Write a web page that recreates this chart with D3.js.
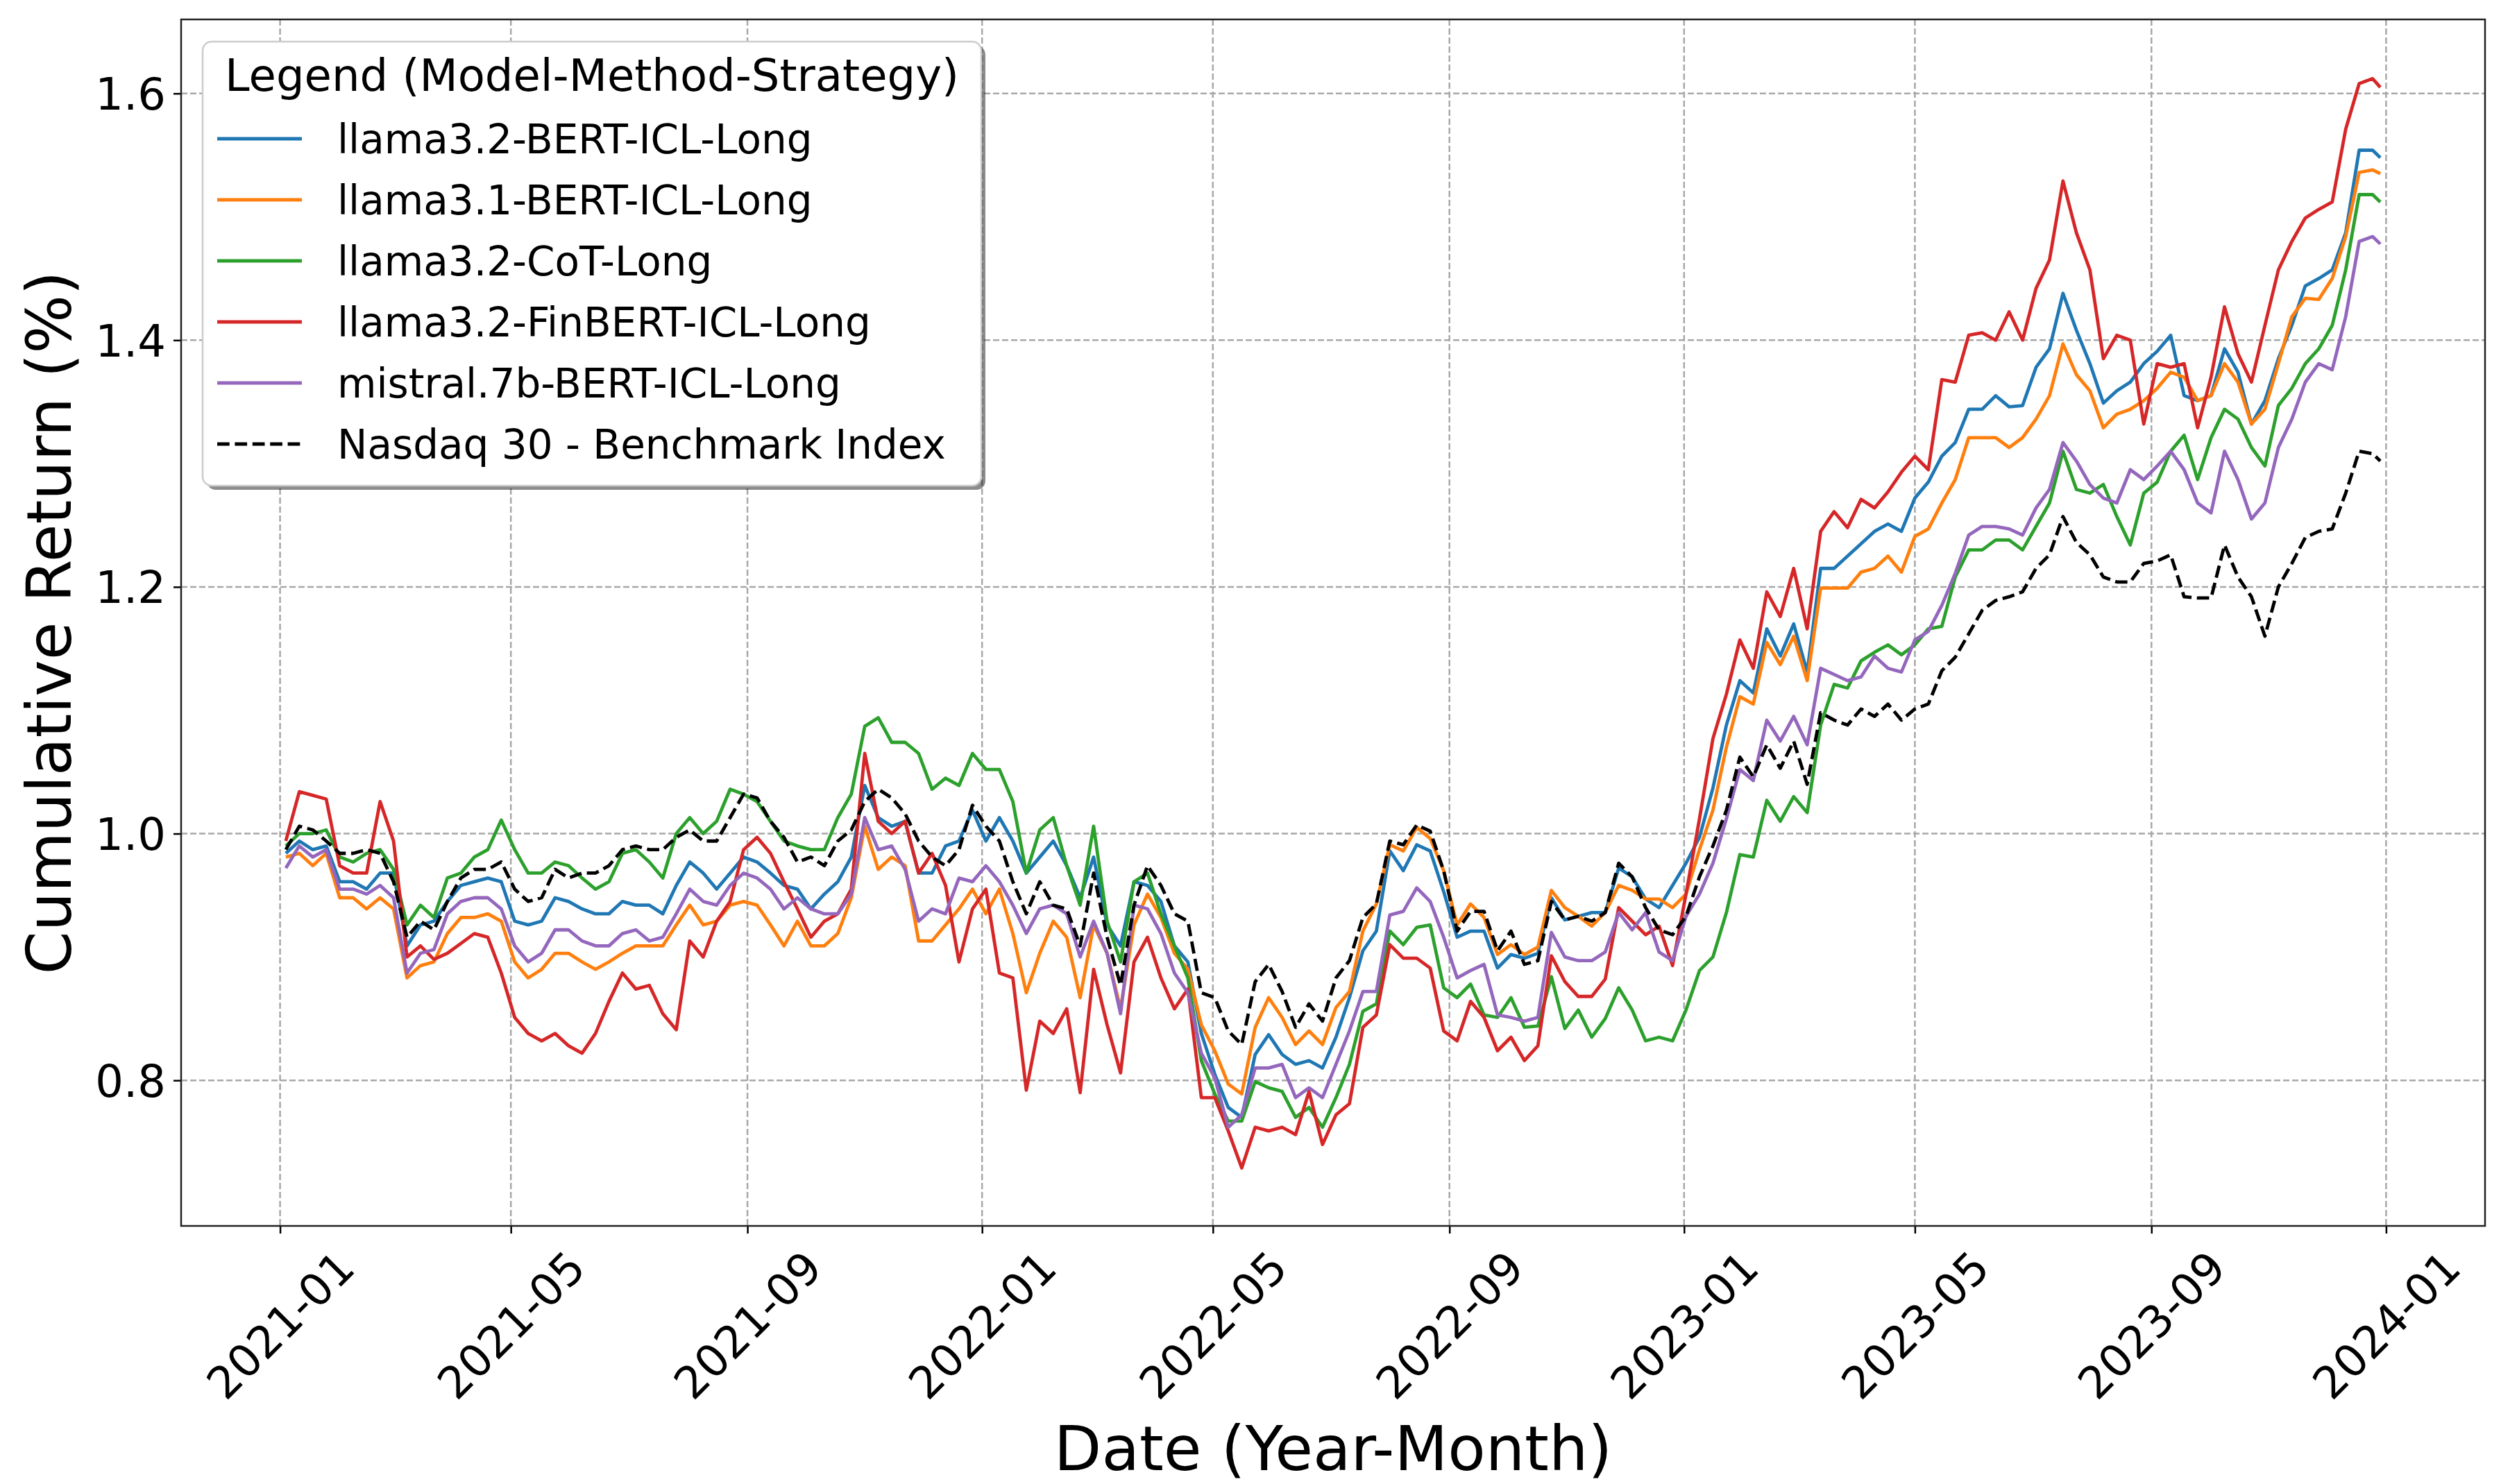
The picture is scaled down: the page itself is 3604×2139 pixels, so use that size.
<!DOCTYPE html>
<html>
<head>
<meta charset="utf-8">
<script src="https://cdn.jsdelivr.net/npm/d3@7"></script>
<style>
  body { margin: 0; background: #fff; }
  text { font-family: "DejaVu Sans", sans-serif; fill: #000; }
</style>
</head>
<body>
<div id="chart"></div>
<script>
// weekly samples
var dates = [
  "2021-01-04","2021-01-11","2021-01-18","2021-01-25","2021-02-01","2021-02-08","2021-02-15","2021-02-22","2021-03-01","2021-03-08",
  "2021-03-15","2021-03-22","2021-03-29","2021-04-05","2021-04-12","2021-04-19","2021-04-26","2021-05-03","2021-05-10","2021-05-17",
  "2021-05-24","2021-05-31","2021-06-07","2021-06-14","2021-06-21","2021-06-28","2021-07-05","2021-07-12","2021-07-19","2021-07-26",
  "2021-08-02","2021-08-09","2021-08-16","2021-08-23","2021-08-30","2021-09-06","2021-09-13","2021-09-20","2021-09-27","2021-10-04",
  "2021-10-11","2021-10-18","2021-10-25","2021-11-01","2021-11-08","2021-11-15","2021-11-22","2021-11-29","2021-12-06","2021-12-13",
  "2021-12-20","2021-12-27",
  "2022-01-03","2022-01-10","2022-01-17","2022-01-24","2022-01-31","2022-02-07","2022-02-14","2022-02-21","2022-02-28","2022-03-07",
  "2022-03-14","2022-03-21","2022-03-28","2022-04-04","2022-04-11","2022-04-18","2022-04-25","2022-05-02","2022-05-09","2022-05-16",
  "2022-05-23","2022-05-30","2022-06-06","2022-06-13","2022-06-20","2022-06-27","2022-07-04","2022-07-11","2022-07-18","2022-07-25",
  "2022-08-01","2022-08-08","2022-08-15","2022-08-22","2022-08-29","2022-09-05","2022-09-12","2022-09-19","2022-09-26","2022-10-03",
  "2022-10-10","2022-10-17","2022-10-24","2022-10-31","2022-11-07","2022-11-14","2022-11-21","2022-11-28","2022-12-05","2022-12-12",
  "2022-12-19","2022-12-26",
  "2023-01-02","2023-01-09","2023-01-16","2023-01-23","2023-01-30","2023-02-06","2023-02-13","2023-02-20","2023-02-27","2023-03-06",
  "2023-03-13","2023-03-20","2023-03-27","2023-04-03","2023-04-10","2023-04-17","2023-04-24","2023-05-01","2023-05-08","2023-05-15",
  "2023-05-22","2023-05-29","2023-06-05","2023-06-12","2023-06-19","2023-06-26","2023-07-03","2023-07-10","2023-07-17","2023-07-24",
  "2023-07-31","2023-08-07","2023-08-14","2023-08-21","2023-08-28","2023-09-04","2023-09-11","2023-09-18","2023-09-25","2023-10-02",
  "2023-10-09","2023-10-16","2023-10-23","2023-10-30","2023-11-06","2023-11-13","2023-11-20","2023-11-27","2023-12-04","2023-12-11",
  "2023-12-18","2023-12-25","2023-12-29"
];

var llama32Bert = [
  0.984, 0.994, 0.987, 0.990, 0.961, 0.961, 0.955, 0.968, 0.968, 0.909,
  0.926, 0.929, 0.945, 0.958, 0.961, 0.964, 0.961, 0.929, 0.926, 0.929,
  0.948, 0.945, 0.939, 0.935, 0.935, 0.945, 0.942, 0.942, 0.935, 0.958,
  0.977, 0.968, 0.955, 0.968, 0.981, 0.977, 0.968, 0.958, 0.955, 0.939,
  0.951, 0.961, 0.981, 1.039, 1.013, 1.006, 1.010, 0.968, 0.968, 0.990,
  0.994, 1.019, 0.994, 1.013, 0.994, 0.968, 0.981, 0.994, 0.974, 0.948,
  0.981, 0.926, 0.909, 0.961, 0.958, 0.945, 0.909, 0.896, 0.838,
  0.805, 0.778, 0.770, 0.821, 0.837, 0.821, 0.813, 0.816, 0.810, 0.835,
  0.867, 0.905, 0.921, 0.986, 0.970, 0.991, 0.986, 0.953, 0.916, 0.921,
  0.921, 0.891, 0.902, 0.899, 0.903, 0.948, 0.930,
  0.933, 0.936, 0.936, 0.972, 0.965, 0.947, 0.940, 0.958, 0.976, 0.997, 1.037, 1.088,
  1.124, 1.114, 1.166, 1.144, 1.170, 1.131, 1.215, 1.215, 1.225, 1.235, 1.245, 1.251, 1.245, 1.272,
  1.285, 1.306, 1.317, 1.344, 1.344, 1.355, 1.346, 1.347, 1.378, 1.393,
  1.438, 1.408, 1.381, 1.349, 1.359, 1.366, 1.381, 1.391, 1.404, 1.355,
  1.351, 1.355, 1.393, 1.374, 1.332, 1.351, 1.385, 1.412, 1.444, 1.450,
  1.457, 1.487, 1.554, 1.554, 1.548
];

var llama31Bert = [
  0.981, 0.984, 0.974, 0.984, 0.948, 0.948, 0.939, 0.948, 0.939, 0.883,
  0.893, 0.896, 0.919, 0.932, 0.932, 0.935, 0.929, 0.896, 0.883, 0.890,
  0.903, 0.903, 0.896, 0.890, 0.896, 0.903, 0.909, 0.909, 0.909, 0.926,
  0.942, 0.926, 0.929, 0.942, 0.945, 0.942, 0.926, 0.909, 0.929, 0.909,
  0.909, 0.919, 0.948, 1.006, 0.971, 0.981, 0.974, 0.913, 0.913, 0.926,
  0.939, 0.955, 0.935, 0.955, 0.919, 0.871, 0.903, 0.929, 0.916, 0.867,
  0.926, 0.903, 0.858, 0.926, 0.951, 0.932, 0.903, 0.890, 0.845,
  0.824, 0.797, 0.789, 0.843, 0.867, 0.851, 0.829, 0.840, 0.829, 0.859,
  0.872, 0.921, 0.943, 0.991, 0.986, 1.005, 0.996, 0.970, 0.926, 0.943,
  0.932, 0.902, 0.910, 0.902, 0.908, 0.954, 0.940,
  0.933, 0.925, 0.936, 0.958, 0.954, 0.947, 0.947, 0.940, 0.951, 0.987, 1.019, 1.070,
  1.111, 1.105, 1.155, 1.137, 1.160, 1.124, 1.199, 1.199, 1.199, 1.212, 1.215, 1.225, 1.212, 1.241,
  1.247, 1.268, 1.287, 1.321, 1.321, 1.321, 1.313, 1.321, 1.336, 1.355,
  1.397, 1.372, 1.359, 1.329, 1.340, 1.344, 1.351, 1.361, 1.374, 1.370,
  1.351, 1.355, 1.381, 1.366, 1.332, 1.344, 1.381, 1.419, 1.434, 1.433,
  1.450, 1.484, 1.536, 1.538, 1.535
];

var llama32Cot = [
  0.990, 1.000, 1.000, 1.003, 0.981, 0.977, 0.984, 0.987, 0.971, 0.926,
  0.942, 0.932, 0.964, 0.968, 0.981, 0.987, 1.011, 0.987, 0.968, 0.968,
  0.977, 0.974, 0.964, 0.955, 0.961, 0.984, 0.987, 0.977, 0.964, 1.000,
  1.013, 1.000, 1.010, 1.036, 1.032, 1.026, 1.010, 0.994, 0.990, 0.987,
  0.987, 1.013, 1.032, 1.087, 1.094, 1.074, 1.074, 1.065, 1.036, 1.045,
  1.039, 1.065, 1.052, 1.052, 1.026, 0.968, 1.003, 1.013, 0.974, 0.942,
  1.006, 0.929, 0.896, 0.961, 0.968, 0.935, 0.909, 0.883, 0.816,
  0.789, 0.767, 0.767, 0.799, 0.794, 0.791, 0.770, 0.778, 0.762, 0.786,
  0.813, 0.856, 0.862, 0.921, 0.910, 0.924, 0.926, 0.875, 0.867, 0.878,
  0.853, 0.851, 0.867, 0.843, 0.844, 0.884, 0.842,
  0.857, 0.835, 0.850, 0.875, 0.857, 0.832, 0.835, 0.832, 0.857, 0.889, 0.900, 0.936,
  0.983, 0.981, 1.027, 1.010, 1.030, 1.017, 1.088, 1.121, 1.118, 1.140, 1.147, 1.153, 1.145, 1.153,
  1.166, 1.168, 1.208, 1.230, 1.230, 1.238, 1.238, 1.230, 1.249, 1.268,
  1.310, 1.279, 1.276, 1.283, 1.257, 1.234, 1.276, 1.285, 1.310, 1.323,
  1.287, 1.321, 1.344, 1.336, 1.313, 1.298, 1.347, 1.361, 1.381, 1.393,
  1.412, 1.457, 1.518, 1.518, 1.512
];

var llama32FinBert = [
  0.994, 1.034, 1.031, 1.028, 0.974, 0.968, 0.968, 1.026, 0.994, 0.900,
  0.909, 0.898, 0.903, 0.911, 0.919, 0.916, 0.887, 0.851, 0.838, 0.832,
  0.838, 0.828, 0.822, 0.838, 0.864, 0.887, 0.874, 0.877, 0.854, 0.841,
  0.913, 0.900, 0.929, 0.945, 0.987, 0.997, 0.984, 0.961, 0.939, 0.916,
  0.929, 0.935, 0.955, 1.065, 1.010, 1.000, 1.010, 0.968, 0.984, 0.958,
  0.896, 0.939, 0.955, 0.887, 0.883, 0.792, 0.848, 0.838, 0.858, 0.790,
  0.890, 0.845, 0.806, 0.896, 0.916, 0.883, 0.858, 0.874, 0.786,
  0.786, 0.759, 0.729, 0.762, 0.759, 0.762, 0.756, 0.791, 0.748, 0.772,
  0.781, 0.843, 0.853, 0.910, 0.899, 0.899, 0.891, 0.840, 0.832, 0.864,
  0.851, 0.824, 0.835, 0.816, 0.828, 0.901, 0.880,
  0.868, 0.868, 0.882, 0.940, 0.929, 0.918, 0.925, 0.893, 0.951, 1.012, 1.077, 1.113,
  1.157, 1.134, 1.196, 1.176, 1.215, 1.166, 1.245, 1.261, 1.248, 1.271, 1.264, 1.277, 1.293, 1.306,
  1.295, 1.368, 1.366, 1.404, 1.406, 1.400, 1.423, 1.400, 1.442, 1.465,
  1.529, 1.487, 1.457, 1.385, 1.404, 1.400, 1.332, 1.381, 1.378, 1.381,
  1.329, 1.370, 1.427, 1.389, 1.366, 1.412, 1.457, 1.480, 1.499, 1.506,
  1.512, 1.571, 1.608, 1.612, 1.605
];

var mistral7bBert = [
  0.972, 0.990, 0.981, 0.987, 0.955, 0.955, 0.951, 0.958, 0.948, 0.887,
  0.903, 0.906, 0.935, 0.945, 0.948, 0.948, 0.939, 0.909, 0.896, 0.903,
  0.922, 0.922, 0.913, 0.909, 0.909, 0.919, 0.922, 0.913, 0.916, 0.935,
  0.955, 0.945, 0.942, 0.958, 0.968, 0.964, 0.955, 0.939, 0.948, 0.939,
  0.935, 0.935, 0.951, 1.013, 0.987, 0.990, 0.971, 0.929, 0.939, 0.935,
  0.964, 0.961, 0.974, 0.961, 0.942, 0.919, 0.939, 0.942, 0.935, 0.900,
  0.929, 0.903, 0.854, 0.942, 0.939, 0.919, 0.887, 0.871, 0.822,
  0.802, 0.762, 0.772, 0.810, 0.810, 0.813, 0.786, 0.794, 0.786, 0.813,
  0.840, 0.872, 0.872, 0.934, 0.937, 0.956, 0.945, 0.916, 0.883, 0.889,
  0.894, 0.853, 0.851, 0.848, 0.851, 0.920, 0.900,
  0.897, 0.897, 0.904, 0.936, 0.922, 0.936, 0.904, 0.897, 0.933, 0.951, 0.976, 1.012,
  1.052, 1.043, 1.092, 1.075, 1.095, 1.072, 1.134, 1.129, 1.124, 1.127, 1.144, 1.134, 1.131, 1.157,
  1.164, 1.185, 1.211, 1.242, 1.249, 1.249, 1.247, 1.242, 1.264, 1.279,
  1.317, 1.302, 1.283, 1.272, 1.268, 1.295, 1.287, 1.298, 1.310, 1.295,
  1.268, 1.260, 1.310, 1.287, 1.255, 1.268, 1.313, 1.336, 1.366, 1.381,
  1.376, 1.419, 1.480, 1.484, 1.478
];

var nasdaq30 = [
  0.987, 1.006, 1.003, 0.994, 0.984, 0.984, 0.987, 0.984, 0.961, 0.916,
  0.929, 0.922, 0.945, 0.964, 0.971, 0.971, 0.977, 0.955, 0.945, 0.948,
  0.971, 0.964, 0.968, 0.968, 0.974, 0.987, 0.990, 0.987, 0.987, 0.997,
  1.003, 0.994, 0.994, 1.013, 1.032, 1.029, 1.010, 0.997, 0.977, 0.981,
  0.974, 0.994, 1.003, 1.026, 1.036, 1.029, 1.016, 0.994, 0.981, 0.974,
  0.987, 1.023, 1.006, 0.994, 0.961, 0.935, 0.961, 0.942, 0.939, 0.909,
  0.968, 0.916, 0.877, 0.942, 0.974, 0.958, 0.935, 0.929, 0.871,
  0.867, 0.840, 0.829, 0.880, 0.894, 0.872, 0.843, 0.862, 0.848, 0.883,
  0.897, 0.932, 0.943, 0.994, 0.991, 1.007, 1.002, 0.970, 0.921, 0.937,
  0.937, 0.905, 0.921, 0.894, 0.897, 0.945, 0.930,
  0.933, 0.929, 0.936, 0.976, 0.965, 0.940, 0.922, 0.918, 0.933, 0.965, 0.990, 1.019,
  1.062, 1.046, 1.072, 1.053, 1.075, 1.040, 1.098, 1.092, 1.088, 1.101, 1.095, 1.105, 1.092, 1.101,
  1.105, 1.132, 1.143, 1.162, 1.181, 1.189, 1.192, 1.196, 1.215, 1.226,
  1.257, 1.236, 1.226, 1.208, 1.204, 1.204, 1.219, 1.221, 1.226, 1.192,
  1.191, 1.191, 1.234, 1.208, 1.192, 1.160, 1.200, 1.219, 1.240, 1.245,
  1.247, 1.276, 1.310, 1.308, 1.302
];

var seriesNames = [
  "llama3.2-BERT-ICL-Long",
  "llama3.1-BERT-ICL-Long",
  "llama3.2-CoT-Long",
  "llama3.2-FinBERT-ICL-Long",
  "mistral.7b-BERT-ICL-Long",
  "Nasdaq 30 - Benchmark Index"
];
var seriesValues = [llama32Bert, llama31Bert, llama32Cot, llama32FinBert, mistral7bBert, nasdaq30];
var seriesColors = ["#1f77b4", "#ff7f0e", "#2ca02c", "#d62728", "#9467bd", "#000000"];

var xTickLabels = ["2021-01","2021-05","2021-09","2022-01","2022-05","2022-09","2023-01","2023-05","2023-09","2024-01"];
var yTicks = [0.8, 1.0, 1.2, 1.4, 1.6];

var legendTitle = "Legend (Model-Method-Strategy)";
var xLabel = "Date (Year-Month)";
var yLabel = "Cumulative Return (%)";

var W = 3604, H = 2139;
var margin = {top: 28, right: 23, bottom: 372, left: 261},
    width = W - margin.left - margin.right,
    height = H - margin.top - margin.bottom;

var parseDate = d3.timeParse("%Y-%m-%d");
var parseMonth = d3.timeParse("%Y-%m");
var allDates = dates.map(parseDate);

var svg = d3.select("#chart")
  .append("svg")
    .attr("width", W)
    .attr("height", H);
svg.append("rect").attr("width", W).attr("height", H).attr("fill", "white");

var g = svg.append("g")
  .attr("transform", "translate(" + margin.left + "," + margin.top + ")");

// matplotlib style 5% padding on the time axis
var ext = d3.extent(allDates);
var pad = (ext[1] - ext[0]) * 0.05;
var x = d3.scaleTime()
  .domain([new Date(+ext[0] - pad), new Date(+ext[1] + pad)])
  .range([0, width]);

var y = d3.scaleLinear()
  .domain([0.682, 1.66])
  .range([height, 0]);

var xTicks = xTickLabels.map(parseMonth);

// grid
g.selectAll(".vgrid")
  .data(xTicks)
  .enter().append("line")
    .attr("x1", function(d) { return x(d); })
    .attr("x2", function(d) { return x(d); })
    .attr("y1", 0).attr("y2", height)
    .attr("stroke", "#a8a8a8")
    .attr("stroke-width", 2.5)
    .attr("stroke-dasharray", "9,4");
g.selectAll(".hgrid")
  .data(yTicks)
  .enter().append("line")
    .attr("x1", 0).attr("x2", width)
    .attr("y1", function(d) { return y(d); })
    .attr("y2", function(d) { return y(d); })
    .attr("stroke", "#a8a8a8")
    .attr("stroke-width", 2.5)
    .attr("stroke-dasharray", "9,4");

// axes
var xAxis = g.append("g")
  .attr("transform", "translate(0," + height + ")")
  .call(d3.axisBottom(x)
    .tickValues(xTicks)
    .tickSize(11)
    .tickFormat(function(d, i) { return xTickLabels[i]; }));
xAxis.select(".domain").remove();
xAxis.selectAll(".tick line").attr("stroke", "#000").attr("stroke-width", 2.5);
xAxis.selectAll(".tick text")
  .attr("y", null)
  .attr("dy", "0.35em")
  .attr("text-anchor", "middle")
  .attr("transform", "translate(0,143) rotate(-45)")
  .style("font-size", "64px")
  .style("font-family", "DejaVu Sans");

var yAxis = g.append("g")
  .call(d3.axisLeft(y)
    .tickValues(yTicks)
    .tickSize(11)
    .tickPadding(11)
    .tickFormat(d3.format(".1f")));
yAxis.select(".domain").remove();
yAxis.selectAll(".tick line").attr("stroke", "#000").attr("stroke-width", 2.5);
yAxis.selectAll(".tick text")
  .attr("dy", "0.36em")
  .style("font-size", "64px")
  .style("font-family", "DejaVu Sans");

// series
var line = d3.line()
  .defined(function(d) { return d.value != null && d.date != null; })
  .x(function(d) { return x(d.date); })
  .y(function(d) { return y(d.value); });

seriesValues.forEach(function(vals, k) {
  var rows = allDates.map(function(dt, i) { return {date: dt, value: vals[i]}; });
  g.append("path")
    .datum(rows)
    .attr("fill", "none")
    .attr("stroke", seriesColors[k])
    .attr("stroke-width", 4.8)
    .attr("stroke-linejoin", "round")
    .attr("stroke-dasharray", k == 5 ? "17.7,7.7" : null)
    .attr("d", line);
});

// spines
g.append("rect")
  .attr("x", 0).attr("y", 0)
  .attr("width", width).attr("height", height)
  .attr("fill", "none")
  .attr("stroke", "#222")
  .attr("stroke-width", 2.5);

// axis labels
svg.append("text")
  .attr("x", margin.left + width / 2)
  .attr("y", 2119)
  .attr("text-anchor", "middle")
  .style("font-size", "89px")
  .text(xLabel);
svg.append("text")
  .attr("transform", "translate(102," + (margin.top + height / 2) + ") rotate(-90)")
  .attr("text-anchor", "middle")
  .style("font-size", "89px")
  .text(yLabel);

// legend with shadow
var lg = svg.append("g");
lg.append("rect")
  .attr("x", 298).attr("y", 66)
  .attr("width", 1122).attr("height", 640)
  .attr("rx", 13)
  .attr("fill", "#000").attr("opacity", 0.45);
lg.append("rect")
  .attr("x", 292).attr("y", 60)
  .attr("width", 1122).attr("height", 640)
  .attr("rx", 13)
  .attr("fill", "white")
  .attr("stroke", "#cccccc")
  .attr("stroke-width", 2.5);
lg.append("text")
  .attr("x", 853).attr("y", 131)
  .attr("text-anchor", "middle")
  .style("font-size", "64px")
  .text(legendTitle);

seriesNames.forEach(function(name, k) {
  var yy = 200 + k * 88;
  lg.append("line")
    .attr("x1", 313).attr("x2", 435)
    .attr("y1", yy).attr("y2", yy)
    .attr("stroke", seriesColors[k])
    .attr("stroke-width", 4.8)
    .attr("stroke-dasharray", k == 5 ? "17.7,7.7" : null);
  lg.append("text")
    .attr("x", 486).attr("y", yy + 21)
    .style("font-size", "58px")
    .text(name);
});
</script>
</body>
</html>
